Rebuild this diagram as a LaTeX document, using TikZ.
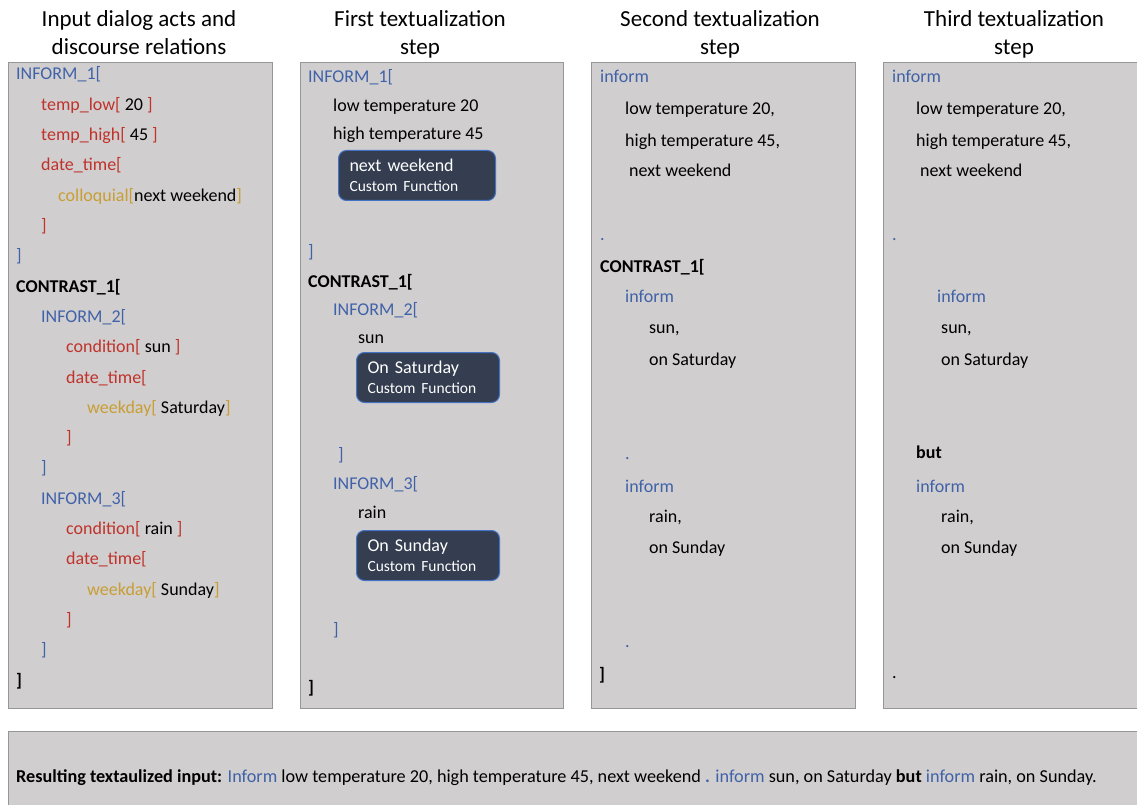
\documentclass[tikz,border=0pt]{standalone}
\usepackage{fontspec}
\setmainfont{Carlito}
\usepackage{xcolor}
\usetikzlibrary{positioning}

\definecolor{actblue}{RGB}{64,98,168}
\definecolor{slotred}{RGB}{192,50,42}
\definecolor{valgold}{RGB}{200,158,52}
\definecolor{panelgray}{RGB}{208,206,207}
\definecolor{panelline}{RGB}{150,150,150}
\definecolor{fnfill}{RGB}{52,62,80}
\definecolor{fnline}{RGB}{68,114,196}

\newcommand{\act}[1]{\textcolor{actblue}{#1}}
\newcommand{\slot}[1]{\textcolor{slotred}{#1}}
\newcommand{\val}[1]{\textcolor{valgold}{#1}}
\newcommand{\fnsub}[1]{{\fontsize{15.5}{17}\selectfont #1}}

\begin{document}
\begin{tikzpicture}[x=1pt, y=-1pt,
  panel/.style={fill=panelgray, draw=panelline, line width=1pt},
  txt/.style={anchor=base west, inner sep=0pt, font=\fontsize{18}{22}\selectfont},
  head/.style={anchor=north, inner sep=0pt, align=center, font=\fontsize{23}{28}\selectfont},
  fnbox/.style={anchor=north west, fill=fnfill, draw=fnline, line width=1pt,
    rounded corners=8pt, text=white, align=left, inner xsep=11pt,
    minimum height=50pt, font=\fontsize{18}{20}\selectfont}]

  \useasboundingbox (0,0) rectangle (1137,805);

  % panels
  \draw[panel] (8,63)   rectangle (272,708);
  \draw[panel] (300,63) rectangle (563,708);
  \draw[panel] (591,63) rectangle (855,708);
  \draw[panel] (883,63) rectangle (1145,708);
  \draw[panel] (8,731)  rectangle (1145,815);

  % headings
  \node[head] (hInput)  at (139,10)  {Input dialog acts and\\discourse relations};
  \node[head] (hFirst)  at (420,10)  {First textualization\\step};
  \node[head] (hSecond) at (720,10)  {Second textualization\\step};
  \node[head] (hThird)  at (1014,10) {Third textualization\\step};

  % input dialog acts
  \foreach \x/\t [count=\k from 0] in {
      16/{\act{INFORM\_1[}},
      41/{\slot{temp\_low[} 20 \slot{]}},
      41/{\slot{temp\_high[} 45 \slot{]}},
      41/{\slot{date\_time[}},
      58/{\val{colloquial[}next weekend\val{]}},
      41/{\slot{]}},
      16/{\act{]}},
      16/{\textbf{CONTRAST\_1[}},
      41/{\act{INFORM\_2[}},
      66/{\slot{condition[} sun \slot{]}},
      66/{\slot{date\_time[}},
      87/{\val{weekday[} Saturday\val{]}},
      66/{\slot{]}},
      41/{\act{]}},
      41/{\act{INFORM\_3[}},
      66/{\slot{condition[} rain \slot{]}},
      66/{\slot{date\_time[}},
      87/{\val{weekday[} Sunday\val{]}},
      66/{\slot{]}},
      41/{\act{]}},
      16/{\textbf{]}}}
    \node[txt] (in-\k) at (\x,80+30.3*\k) {\t};

  % first step
  \foreach \x/\y/\t [count=\k] in {
      308/83/{\act{INFORM\_1[}},
      333/112/{low temperature 20},
      333/140/{high temperature 45},
      308/257/{\act{]}},
      308/287/{\textbf{CONTRAST\_1[}},
      333/315/{\act{INFORM\_2[}},
      358/343/{sun},
      338/460/{\act{]}},
      333/489/{\act{INFORM\_3[}},
      358/518/{rain},
      333/635/{\act{]}},
      308/693/{\textbf{]}}}
    \node[txt] (fs-\k) at (\x,\y) {\t};

  \node[fnbox, text width=135pt] (fnWeekend)  at (338,150) {next weekend\\\fnsub{Custom Function}};
  \node[fnbox, text width=121pt] (fnSaturday) at (356,352) {On Saturday\\\fnsub{Custom Function}};
  \node[fnbox, text width=121pt] (fnSunday)   at (356,530) {On Sunday\\\fnsub{Custom Function}};

  % second step
  \foreach \x/\y/\t [count=\k] in {
      600/83/{\act{inform}},
      625/115/{low temperature 20,},
      625/147/{high temperature 45,},
      629/177/{next weekend},
      600/240/{\act{.}},
      600/272/{\textbf{CONTRAST\_1[}},
      625/302/{\act{inform}},
      649/333/{sun,},
      649/365/{on Saturday},
      625/459/{\act{.}},
      625/492/{\act{inform}},
      649/522/{rain,},
      649/553/{on Sunday},
      625/647/{\act{.}},
      599/680/{\textbf{]}}}
    \node[txt] (ss-\k) at (\x,\y) {\t};

  % third step
  \foreach \x/\y/\t [count=\k] in {
      892/83/{\act{inform}},
      916/115/{low temperature 20,},
      916/147/{high temperature 45,},
      920/177/{next weekend},
      892/240/{\act{.}},
      937/302/{\act{inform}},
      941/333/{sun,},
      941/365/{on Saturday},
      916/458/{\textbf{but}},
      916/492/{\act{inform}},
      941/522/{rain,},
      941/553/{on Sunday},
      892/678/{.}}
    \node[txt] (ts-\k) at (\x,\y) {\t};

  % result
  \node[txt, font=\fontsize{18.2}{22}\selectfont] (result) at (16,782)
    {\textbf{Resulting textaulized input:} \act{Inform} low temperature 20, high temperature 45, next weekend \act{\textbf{.}} \act{inform} sun, on Saturday \textbf{but} \act{inform} rain, on Sunday.};
\end{tikzpicture}
\end{document}
